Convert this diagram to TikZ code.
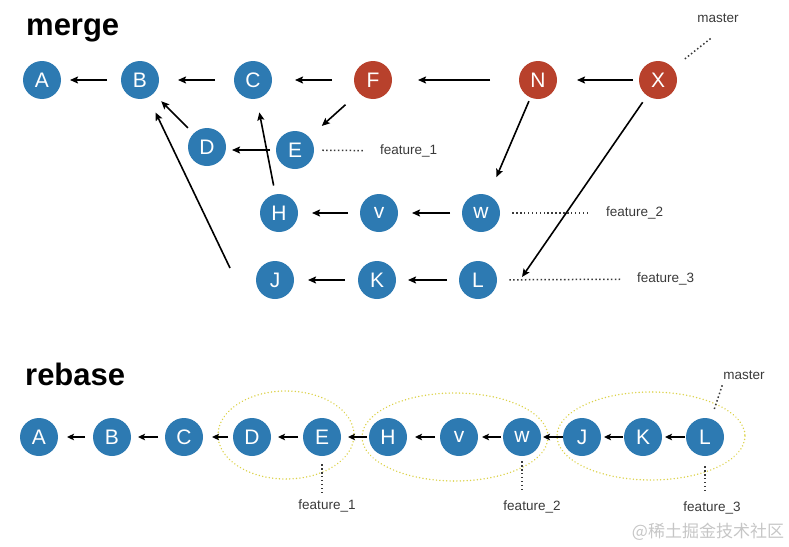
\documentclass[tikz,border=0pt]{standalone}
\usepackage{fontspec}
\setmainfont{Liberation Sans}
\newfontfamily\cjkfont{Noto Sans CJK SC}
\usetikzlibrary{arrows.meta}
\definecolor{cblue}{HTML}{2D7AB2}
\definecolor{cred}{HTML}{B8412C}
\definecolor{cdots}{HTML}{DCD24A}
\definecolor{ctext}{HTML}{3A3A3A}
\tikzset{
  commit/.style={circle,fill=#1,minimum size=38pt,inner sep=0pt,outer sep=0pt,text=white,font=\fontsize{21}{21}\selectfont},
  commit/.default=cblue,
  arr/.style={line width=1.6pt,-{Stealth[length=8pt,width=7pt,inset=1.5pt]}},
  sarr/.style={line width=1.6pt,-{Stealth[length=7pt,width=6.5pt,inset=1.5pt]}},
  dotl/.style={line width=1.5pt,dash pattern=on 0.01pt off 3.9pt,line cap=rect,ctext},
  dotring/.style={line width=1.6pt,dash pattern=on 0.01pt off 3.4pt,line cap=round,cdots},
  lbl/.style={text=ctext,font=\fontsize{13.5}{14}\selectfont,inner sep=0pt},
  ttl/.style={font=\fontsize{31}{31}\selectfont\bfseries,inner sep=0pt,anchor=base west}
}
\begin{document}
\begin{tikzpicture}[x=1pt,y=-1pt]
\useasboundingbox (0,0) rectangle (789,546);
% ---------- merge ----------
\node[ttl] (tm) at (26,35) {merge};
\node[commit] (A) at (42,80) {A};
\node[commit] (B) at (140,80) {B};
\node[commit] (C) at (253,80) {C};
\node[commit=cred] (F) at (373,80) {F};
\node[commit=cred] (N) at (538,80) {N};
\node[commit=cred] (X) at (658,80) {X};
\node[commit] (D) at (207,147) {D};
\node[commit] (E) at (295,150) {E};
\node[commit] (H) at (279,213) {H};
\node[commit] (v) at (379,213) {v};
\node[commit] (w) at (481,213) {w};
\node[commit] (J) at (275,280) {J};
\node[commit] (K) at (377,280) {K};
\node[commit] (L) at (478,280) {L};
\node[lbl,anchor=west] (f1) at (380,151) {feature\_1};
\node[lbl,anchor=west] (f2) at (606,213) {feature\_2};
\node[lbl,anchor=west] (f3) at (637,279) {feature\_3};
\node[lbl] (m1) at (718,18) {master};
\coordinate (jb) at (230,268);
\coordinate (xl) at (522,277);
\coordinate (mx) at (710,39);
\draw[arr,shorten <=14pt,shorten >=9pt] (B) -- (A);
\draw[arr,shorten <=19pt,shorten >=19pt] (C) -- (B);
\draw[arr,shorten <=22pt,shorten >=23pt] (F) -- (C);
\draw[arr,shorten <=29pt,shorten >=26pt] (N) -- (F);
\draw[arr,shorten <=6pt,shorten >=20pt] (X) -- (N);
\draw[arr,shorten <=18pt,shorten >=17pt] (F) -- (E);
\draw[arr,shorten <=8pt,shorten >=11pt] (D) -- (B);
\draw[arr,shorten <=6pt,shorten >=25pt] (E) -- (D |- E);
\draw[arr,shorten <=9pt,shorten >=14pt] (H) -- (C);
\draw[arr,shorten >=17pt] (jb) -- (B);
\draw[arr,shorten <=12pt,shorten >=14pt] (v) -- (H);
\draw[arr,shorten <=12pt,shorten >=14pt] (w) -- (v);
\draw[arr,shorten <=13pt,shorten >=14pt] (K) -- (J);
\draw[arr,shorten <=12pt,shorten >=12pt] (L) -- (K);
\draw[arr,shorten <=4pt,shorten >=20pt] (N) -- (w);
\draw[arr,shorten <=8pt] (X) -- (xl);
\draw[dotl,shorten <=9pt,shorten >=17pt] (E) -- (f1);
\draw[dotl,shorten <=13pt,shorten >=16pt] (w) -- (f2);
\draw[dotl,shorten <=13pt,shorten >=14pt] (L) -- (f3);
\draw[dotl,shorten >=14pt] (mx) -- (X);
% ---------- rebase ----------
\node[ttl] (tr) at (25,385) {rebase};
\draw[dotring] (286,435) ellipse [x radius=68, y radius=44];
\draw[dotring] (455,437) ellipse [x radius=93, y radius=44];
\draw[dotring] (651,436) ellipse [x radius=94, y radius=44];
\node[commit] (rA) at (39,437) {A};
\node[commit] (rB) at (112,437) {B};
\node[commit] (rC) at (184,437) {C};
\node[commit] (rD) at (252,437) {D};
\node[commit] (rE) at (322,437) {E};
\node[commit] (rH) at (388,437) {H};
\node[commit] (rv) at (459,437) {v};
\node[commit] (rw) at (522,437) {w};
\node[commit] (rJ) at (582,437) {J};
\node[commit] (rK) at (643,437) {K};
\node[commit] (rL) at (705,437) {L};
\draw[sarr,shorten <=8pt,shorten >=9pt] (rB) -- (rA);
\draw[sarr,shorten <=7pt,shorten >=7pt] (rC) -- (rB);
\draw[sarr,shorten <=5pt,shorten >=9pt] (rD) -- (rC);
\draw[sarr,shorten <=5pt,shorten >=7pt] (rE) -- (rD);
\draw[sarr,shorten <=2pt,shorten >=7pt] (rH) -- (rE);
\draw[sarr,shorten <=5pt,shorten >=8pt] (rv) -- (rH);
\draw[sarr,shorten <=2pt,shorten >=4pt] (rw) -- (rv);
\draw[sarr,shorten <=0pt,shorten >=2pt] (rJ) -- (rw);
\draw[sarr,shorten <=1pt,shorten >=3pt] (rK) -- (rJ);
\draw[sarr,shorten <=1pt,shorten >=3pt] (rL) -- (rK);
\node[lbl] (rf1) at (327,506) {feature\_1};
\node[lbl] (rf2) at (532,507) {feature\_2};
\node[lbl] (rf3) at (712,508) {feature\_3};
\node[lbl] (rm) at (744,375) {master};
\coordinate (rmx) at (722,386);
\draw[dotl,shorten <=9pt,shorten >=7pt] (rE) -- (rE |- rf1.north);
\draw[dotl,shorten <=6pt,shorten >=10pt] (rw) -- (rw |- rf2.north);
\draw[dotl,shorten <=11pt,shorten >=8pt] (rL) -- (rL |- rf3.north);
\draw[dotl,shorten >=9pt] (rmx) -- (rL);
\node[text=gray!45,font=\cjkfont\fontsize{17}{17}\selectfont,inner sep=0pt] (wm) at (708,532) {@稀土掘金技术社区};
\end{tikzpicture}
\end{document}
